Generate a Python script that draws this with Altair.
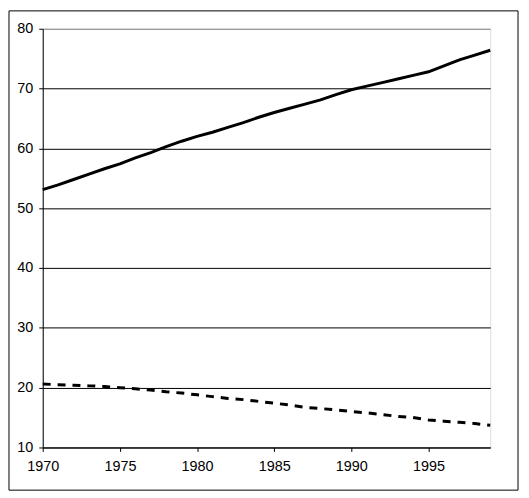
import altair as alt
import pandas as pd

years = list(range(1970, 2000))
solid = [53.1, 53.9, 54.8, 55.7, 56.6, 57.4, 58.4, 59.3, 60.3, 61.2,
         62.0, 62.7, 63.5, 64.3, 65.2, 66.0, 66.7, 67.4, 68.1, 69.0,
         69.8, 70.4, 71.0, 71.6, 72.2, 72.8, 73.8, 74.8, 75.6, 76.4]
dashed = [20.6, 20.5, 20.4, 20.3, 20.2, 20.0, 19.8, 19.6, 19.3, 19.1,
          18.8, 18.5, 18.2, 18.0, 17.7, 17.4, 17.1, 16.7, 16.5, 16.3,
          16.0, 15.8, 15.5, 15.2, 15.0, 14.6, 14.4, 14.2, 14.0, 13.7]
x_ticks = [1970, 1975, 1980, 1985, 1990, 1995]
y_ticks = [10, 20, 30, 40, 50, 60, 70, 80]

df = pd.DataFrame({"year": years, "solid": solid, "dashed": dashed})

FONT = "Liberation Sans"
FS = 14.5

x_enc = alt.X(
    "year:Q",
    scale=alt.Scale(domain=[1970, 1999], nice=False, zero=False),
    axis=alt.Axis(values=x_ticks, format="d", title=None, grid=False,
                  labelFont=FONT, labelFontSize=FS, labelColor="black",
                  tickColor="black", domainColor="black", tickSize=4,
                  labelPadding=8, labelFlush=False),
)

def y_enc(field):
    return alt.Y(
        f"{field}:Q",
        scale=alt.Scale(domain=[10, 80], nice=False, zero=False),
        axis=alt.Axis(values=y_ticks, title=None, grid=True,
                      gridColor={"condition": {"test": "datum.value === 80", "value": "#808080"}, "value": "black"},
                      gridOpacity=1, gridWidth=1,
                      labelFont=FONT, labelFontSize=FS, labelColor="black",
                      tickColor="black", domainColor="black", tickSize=4,
                      labelPadding=6),
    )

line_solid = alt.Chart(df).mark_line(color="black", strokeWidth=3).encode(
    x=x_enc, y=y_enc("solid")
)
line_dashed = alt.Chart(df).mark_line(color="black", strokeWidth=3, strokeDash=[8, 7]).encode(
    x=x_enc, y=y_enc("dashed")
)

border = alt.Chart(pd.DataFrame({"a": [0]})).mark_rect(
    fill="transparent", stroke="black", strokeWidth=1
).encode(
    x=alt.value(-34), x2=alt.value(479), y=alt.value(-18), y2=alt.value(465)
)

chart = alt.layer(line_solid, line_dashed, border).properties(
    width=451, height=422,
    autosize=alt.AutoSizeParams(type="none"),
    padding={"left": 35, "top": 19, "right": 31, "bottom": 48},
).configure_view(
    stroke="#808080", strokeWidth=1
).configure(background="white")

chart.save("out.html", embed_options={"renderer": "svg", "actions": False})
